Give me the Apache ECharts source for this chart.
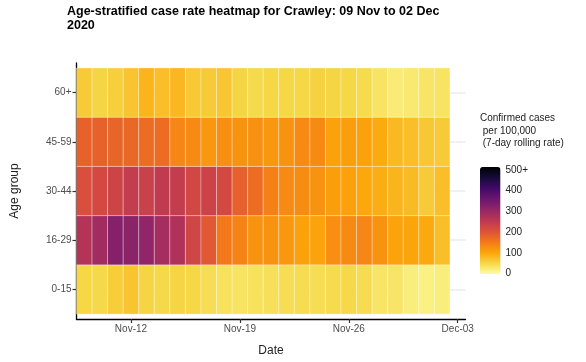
<!DOCTYPE html>
<html><head><meta charset="utf-8">
<script src="https://cdn.jsdelivr.net/npm/echarts@6/dist/echarts.min.js"></script>
<style>html,body{margin:0;padding:0;background:#fff}#c{width:586px;height:362px}</style>
</head><body><div id="c"></div>
<script>
const dates = ['2020-11-09','2020-11-10','2020-11-11','2020-11-12','2020-11-13','2020-11-14','2020-11-15','2020-11-16',
  '2020-11-17','2020-11-18','2020-11-19','2020-11-20','2020-11-21','2020-11-22','2020-11-23','2020-11-24',
  '2020-11-25','2020-11-26','2020-11-27','2020-11-28','2020-11-29','2020-11-30','2020-12-01','2020-12-02'];
const ageGroups = ['0-15','16-29','30-44','45-59','60+'];
const rate0_15  = [50,48,60,68,52,48,52,50,42,38,35,38,40,42,44,43,45,48,44,33,32,22,18,22];
const rate16_29 = [260,282,318,310,302,278,265,222,190,150,138,120,120,115,105,102,125,130,135,120,102,100,96,75];
const rate30_44 = [205,215,225,238,230,242,238,220,228,215,180,165,140,130,128,120,108,105,98,92,85,78,62,75];
const rate45_59 = [178,178,175,170,165,165,135,130,115,125,120,122,115,120,130,130,105,108,105,95,80,75,65,62];
const rate60p   = [62,52,58,68,85,75,82,64,62,67,52,46,50,50,50,55,52,50,45,35,25,27,33,35];
const tickDates = ['2020-11-12','2020-11-19','2020-11-26','2020-12-03'];
const tickLabels = ['Nov-12','Nov-19','Nov-26','Dec-03'];
const legendTicks = [0,100,200,300,400,500];
const legendLabels = ['0','100','200','300','400','500+'];

const DAY = 86400000;
const t0 = Date.parse(dates[0]);
const dayOf = d => (Date.parse(d) - t0) / DAY;
const rows = [rate0_15, rate16_29, rate30_44, rate45_59, rate60p];
const data = [];
rows.forEach((arr, yi) => arr.forEach((v, xi) => data.push([dayOf(dates[xi]), yi, v])));
const tickVals = tickDates.map(dayOf);
const rowVals = ageGroups.map((g, i) => i);

const inferno = ['#fcffa4','#f6d746','#fca50a','#f37819','#dd513a','#bc3754','#932667','#6a176e','#420a68','#160b39','#000004'];
const font = 'Liberation Sans, Arial, sans-serif';

const chart = echarts.init(document.getElementById('c'), null, {renderer:'canvas'});
chart.setOption({
  animation:false,
  textStyle:{fontFamily:font},
  title:{
    text:'Age-stratified case rate heatmap for Crawley: 09 Nov to 02 Dec\n2020',
    left:67, top:5, padding:0,
    textStyle:{fontFamily:font, fontSize:12.5, fontWeight:'bold', color:'#000', lineHeight:14}
  },
  grid:[
    {left:76.5, top:63, width:389, height:260, containLabel:false},
    {left:480, top:170, width:20.5, height:103.5, containLabel:false}
  ],
  xAxis:[{
    type:'value', gridIndex:0, min:-0.5, max:24.5,
    axisLine:{show:true, onZero:false, lineStyle:{color:'#000', width:1.3}},
    axisTick:{show:true, length:4, lineStyle:{color:'#333', width:1.2}, customValues:tickVals},
    axisLabel:{show:true, customValues:tickVals, margin:5, fontSize:10, color:'#4d4d4d', fontFamily:font,
      formatter:v => tickLabels[tickVals.indexOf(v)] || ''},
    splitLine:{show:false},
    name:'Date', nameLocation:'middle', nameGap:26,
    nameTextStyle:{fontSize:12, color:'#222', fontFamily:font}
  },{
    type:'value', gridIndex:1, min:0, max:1, show:false
  }],
  yAxis:[{
    type:'value', gridIndex:0, min:-0.6, max:4.6,
    axisLine:{show:true, onZero:false, lineStyle:{color:'#000', width:1.3}},
    axisTick:{show:true, length:4, lineStyle:{color:'#333', width:1.2}, customValues:rowVals},
    axisLabel:{show:true, customValues:rowVals, margin:5, fontSize:10, color:'#4d4d4d', fontFamily:font,
      formatter:v => ageGroups[v] || ''},
    splitLine:{show:true, lineStyle:{color:'#ebebeb', width:1.5}},
    name:'Age group', nameLocation:'middle', nameGap:56, nameRotate:90,
    nameTextStyle:{fontSize:12, color:'#222', fontFamily:font}
  },{
    type:'value', gridIndex:1, min:0, max:500, position:'right',
    axisLine:{show:false},
    axisTick:{show:true, inside:true, length:4, lineStyle:{color:'rgba(255,255,255,0.8)', width:1}, customValues:legendTicks},
    axisLabel:{show:true, customValues:legendTicks, margin:5, fontSize:10, color:'#222', fontFamily:font,
      formatter:v => legendLabels[legendTicks.indexOf(v)]},
    splitLine:{show:false}
  },{
    type:'value', gridIndex:1, min:0, max:500, position:'left',
    axisLine:{show:false},
    axisTick:{show:true, inside:true, length:4, lineStyle:{color:'rgba(255,255,255,0.8)', width:1}, customValues:legendTicks},
    axisLabel:{show:false},
    splitLine:{show:false}
  }],
  visualMap:{
    type:'continuous', min:0, max:500, seriesIndex:0, dimension:2,
    left:480, top:167, itemWidth:20.5, itemHeight:107, padding:0,
    calculable:false, text:null, showLabel:false,
    inRange:{color:inferno}
  },
  graphic:[{
    type:'text', left:480, top:112,
    style:{text:'Confirmed cases\n per 100,000\n (7-day rolling rate)', font:'10px '+font, fill:'#222', lineHeight:12.5}
  }],
  series:[{
    type:'custom', xAxisIndex:0, yAxisIndex:0,
    data:data,
    encode:{x:0, y:1},
    renderItem:function(params, api){
      const x = api.value(0), y = api.value(1);
      const p0 = api.coord([x-0.5, y+0.5]);
      const p1 = api.coord([x+0.5, y-0.5]);
      return {type:'rect',
        shape:{x:p0[0], y:p0[1], width:p1[0]-p0[0], height:p1[1]-p0[1]},
        style:{fill:api.visual('color'), stroke:'rgba(255,255,255,0.3)', lineWidth:1}};
    }
  }]
});
</script></body></html>
